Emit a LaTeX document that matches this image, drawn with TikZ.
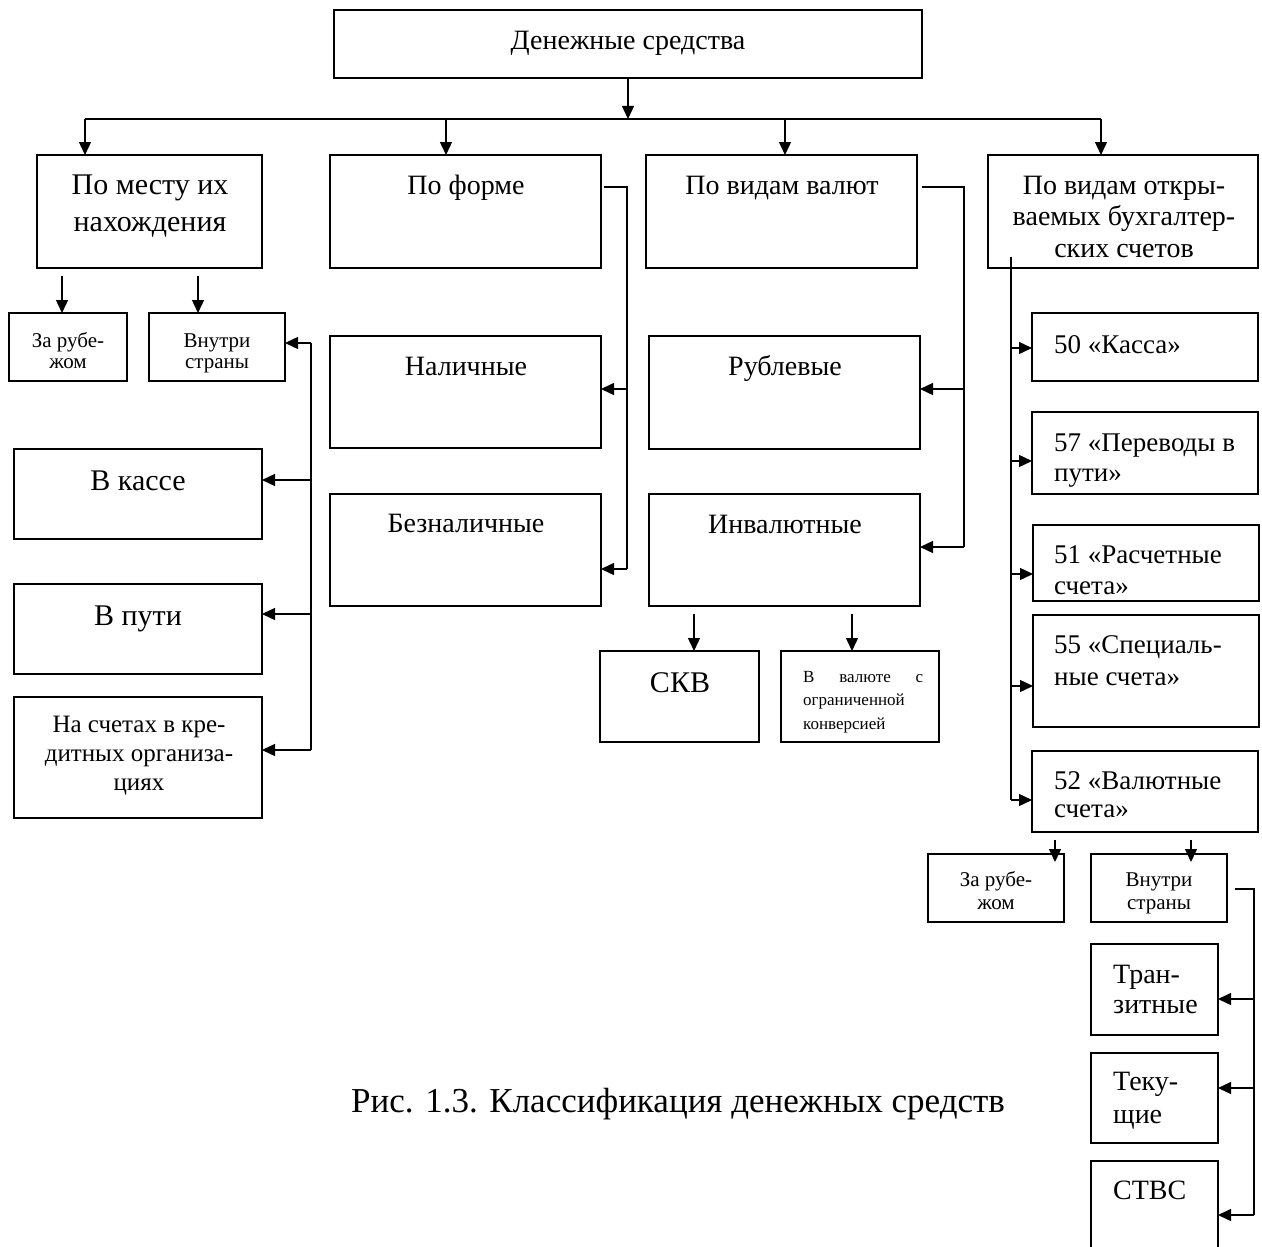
\documentclass[tikz,border=0pt]{standalone}
\usepackage{fontspec}
\setmainfont{Liberation Serif}
\usetikzlibrary{arrows.meta}
\newcommand\dbox[5]{\node[boxst, minimum width={(#4-#2)*1pt}, minimum height={(#5-#3)*1pt}] (#1) at ({(#2+#4)/2},{(#3+#5)/2}) {};}
\begin{document}
\begin{tikzpicture}[x=1pt,y=-1pt,
  boxst/.style={draw, line width=1.8pt, inner sep=0pt, outer sep=0pt},
  conn/.style={line width=1.4pt},
  arr/.style={conn, -{Triangle[length=13pt,width=12pt]}},
  txt/.style={inner sep=0pt, anchor=base, align=center},
  txtl/.style={inner sep=0pt, anchor=base west, align=left},
  fs/.style 2 args={font=\fontsize{#1}{#2}\selectfont}
]
\useasboundingbox (0,0) rectangle (1262,1247);
\clip (0,0) rectangle (1262,1247);
% boxes
\dbox{top}{334}{10}{922}{78}
\dbox{mesto}{37}{155}{262}{268}
\dbox{forma}{330}{155}{601}{268}
\dbox{valut}{646}{155}{917}{268}
\dbox{schet}{988}{155}{1258}{268}
\dbox{zr1}{9}{313}{127}{381}
\dbox{vn1}{149}{313}{285}{381}
\dbox{kassa}{14}{449}{262}{539}
\dbox{puti}{14}{584}{262}{674}
\dbox{kred}{14}{697}{262}{818}
\dbox{nal}{330}{336}{601}{448}
\dbox{bez}{330}{494}{601}{606}
\dbox{rub}{649}{336}{920}{449}
\dbox{inv}{649}{494}{920}{606}
\dbox{skv}{600}{651}{759}{742}
\dbox{vval}{781}{651}{939}{742}
\dbox{k50}{1032}{313}{1258}{381}
\dbox{k57}{1032}{412}{1258}{494}
\dbox{k51}{1033}{525}{1259}{601}
\dbox{k55}{1033}{615}{1259}{727}
\dbox{k52}{1032}{751}{1258}{832}
\dbox{zr2}{928}{854}{1064}{922}
\dbox{vn2}{1091}{854}{1227}{922}
\dbox{tran}{1091}{944}{1218}{1035}
\dbox{tek}{1091}{1053}{1218}{1143}
\dbox{stvs}{1091}{1161}{1218}{1290}
% texts (base anchor = baseline of last line)
\node[txt, fs={28}{31}] (t0) at (628,50) {Денежные средства};
\node[txt, fs={30}{37}] (t1) at (150,231) {По месту их\\нахождения};
\node[txt, fs={28}{31}] (t2) at (466,194) {По форме};
\node[txt, fs={28}{31}] (t3) at (782,194) {По видам валют};
\node[txt, fs={28}{31.5}] (t4) at (1124,257) {По видам откры-\\ваемых бухгалтер-\\ских счетов};
\node[txt, fs={21}{21}] (t5) at (68,368) {За рубе-\\жом};
\node[txt, fs={21}{21}] (t6) at (217,368) {Внутри\\страны};
\node[txt, fs={30}{33}] (t7) at (138,490) {В кассе};
\node[txt, fs={30}{33}] (t8) at (138,625) {В пути};
\node[txt, fs={25}{29}] (t9) at (139,790) {На счетах в кре-\\дитных организа-\\циях};
\node[txt, fs={28}{31}] (t10) at (466,375) {Наличные};
\node[txt, fs={28}{31}] (t11) at (466,532) {Безналичные};
\node[txt, fs={28}{31}] (t12) at (785,375) {Рублевые};
\node[txt, fs={28}{31}] (t13) at (785,533) {Инвалютные};
\node[txt, fs={30}{32}] (t14) at (680,692) {СКВ};
\node[txtl, fs={17}{23.5}, text width=120pt] (t15) at (803,682) {В\hfill валюте\hfill с\\ограниченной\\конверсией};
\node[txtl, fs={27}{31}] (t16) at (1054,353) {50 «Касса»};
\node[txtl, fs={27}{30}] (t17) at (1054,481) {57 «Переводы в\\пути»};
\node[txtl, fs={27}{31}] (t18) at (1054,594) {51 «Расчетные\\счета»};
\node[txtl, fs={27}{32}] (t19) at (1054,685) {55 «Специаль-\\ные счета»};
\node[txtl, fs={27}{28}] (t20) at (1054,817) {52 «Валютные\\счета»};
\node[txt, fs={21}{23}] (t21) at (996,909) {За рубе-\\жом};
\node[txt, fs={21}{23}] (t22) at (1159,909) {Внутри\\страны};
\node[txtl, fs={28}{30}] (t23) at (1113,1013) {Тран-\\зитные};
\node[txtl, fs={28}{33}] (t24) at (1113,1123) {Теку-\\щие};
\node[txtl, fs={28}{31}] (t25) at (1113,1199) {СТВС};
\node[txt, fs={35}{38}] (cap) at (678,1112) {Рис. 1.3. Классификация денежных средств};
% top bus
\coordinate (busL) at (85,119);
\coordinate (busR) at (1101,119);
\coordinate (busC) at (628,119);
\coordinate (b2) at (446,119);
\coordinate (b3) at (785,119);
\draw[conn] (busL) -- (busR);
\draw[arr] (top.south) -- (busC);
\draw[arr] (busL) -- (busL |- mesto.north);
\draw[arr] (b2) -- (b2 |- forma.north);
\draw[arr] (b3) -- (b3 |- valut.north);
\draw[arr] (busR) -- (busR |- schet.north);
% under "po mestu"
\coordinate (m1) at (62,276);
\coordinate (m2) at (198,276);
\draw[arr] (m1) -- (m1 |- zr1.north);
\draw[arr] (m2) -- (m2 |- vn1.north);
% left vertical
\coordinate (L0) at (311,343);
\coordinate (L1) at (311,480);
\coordinate (L2) at (311,614);
\coordinate (L3) at (311,750);
\draw[conn] (L0) -- (L3);
\draw[arr] (L0) -- (L0 -| vn1.east);
\draw[arr] (L1) -- (L1 -| kassa.east);
\draw[arr] (L2) -- (L2 -| puti.east);
\draw[arr] (L3) -- (L3 -| kred.east);
% forma
\coordinate (f0) at (604,187);
\coordinate (f1) at (627,187);
\coordinate (fA) at (627,389);
\coordinate (fB) at (627,569);
\draw[conn] (f0) -- (f1) -- (fB);
\draw[arr] (fA) -- (fA -| nal.east);
\draw[arr] (fB) -- (fB -| bez.east);
% valut
\coordinate (v0) at (922,187);
\coordinate (v1) at (964,187);
\coordinate (vA) at (964,389);
\coordinate (vB) at (964,547);
\draw[conn] (v0) -- (v1) -- (vB);
\draw[arr] (vA) -- (vA -| rub.east);
\draw[arr] (vB) -- (vB -| inv.east);
% inv
\coordinate (i1) at (694,614);
\coordinate (i2) at (852,614);
\draw[arr] (i1) -- (i1 |- skv.north);
\draw[arr] (i2) -- (i2 |- vval.north);
% right column
\coordinate (r0) at (1011,257);
\coordinate (r1) at (1011,348);
\coordinate (r2) at (1011,461);
\coordinate (r3) at (1011,574);
\coordinate (r4) at (1011,686);
\coordinate (r5) at (1011,800);
\draw[conn] (r0) -- (r5);
\draw[arr] (r1) -- (r1 -| k50.west);
\draw[arr] (r2) -- (r2 -| k57.west);
\draw[arr] (r3) -- (r3 -| k51.west);
\draw[arr] (r4) -- (r4 -| k55.west);
\draw[arr] (r5) -- (r5 -| k52.west);
% under 52
\coordinate (s1) at (1055,840);
\coordinate (s2) at (1191,840);
\draw[arr, shorten >=-8pt] (s1) -- (s1 |- zr2.north);
\draw[arr, shorten >=-8pt] (s2) -- (s2 |- vn2.north);
% vn2
\coordinate (w0) at (1235,889);
\coordinate (w1) at (1254,889);
\coordinate (wA) at (1254,999);
\coordinate (wB) at (1254,1088);
\coordinate (wC) at (1254,1215);
\draw[conn] (w0) -- (w1) -- (wC);
\draw[arr] (wA) -- (wA -| tran.east);
\draw[arr] (wB) -- (wB -| tek.east);
\draw[arr] (wC) -- (wC -| stvs.east);
\end{tikzpicture}
\end{document}
